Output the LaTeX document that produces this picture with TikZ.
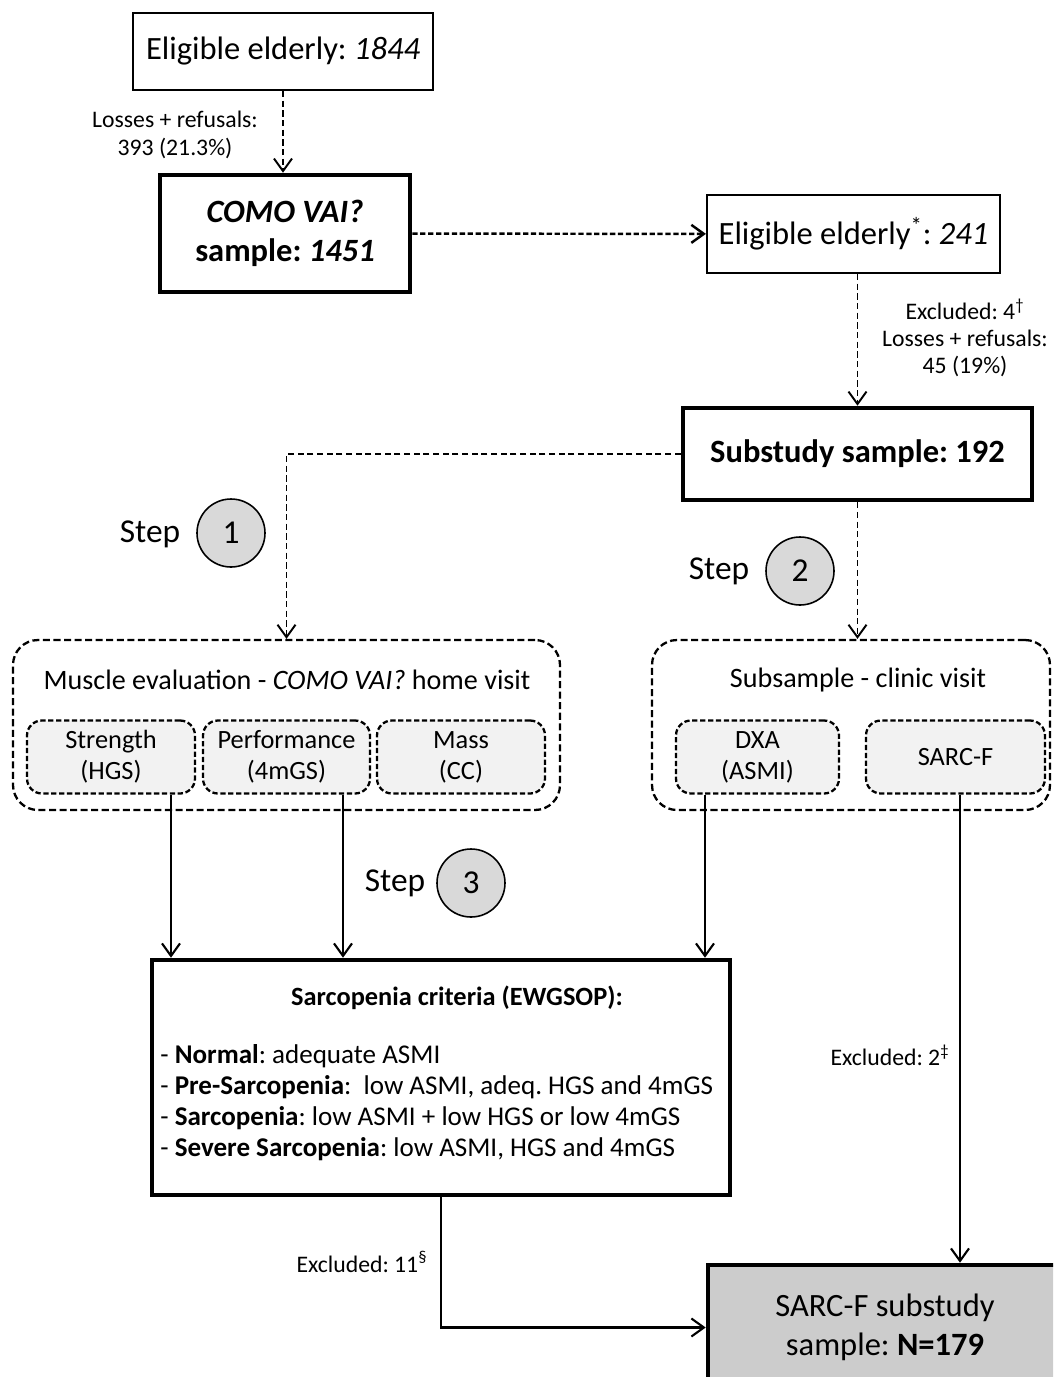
\documentclass[tikz,border=0pt]{standalone}
\usepackage{fontspec}
\setmainfont{Carlito}
\frenchspacing
\usetikzlibrary{arrows.meta}

\tikzset{
  plainbox/.style={draw, line width=1.2pt, align=center, inner sep=0pt,
    font=\fontsize{18.5}{22.5}\selectfont},
  boldbox/.style={plainbox, line width=2.6pt},
  groupbox/.style={draw, line width=1.3pt, rounded corners=5mm,
    dash pattern=on 4pt off 2pt},
  itembox/.style={draw, line width=1.3pt, rounded corners=3mm,
    dash pattern=on 3pt off 1.5pt, fill=gray!10, align=center, inner sep=0pt,
    font=\fontsize{15}{17.5}\selectfont},
  note/.style={align=center, font=\fontsize{13.5}{15.5}\selectfont},
  steplabel/.style={font=\fontsize{19}{22}\selectfont},
  stepnum/.style={circle, draw, line width=0.9pt, fill=gray!30, inner sep=0pt,
    minimum size=13.6mm, font=\fontsize{19}{22}\selectfont},
  dasharrow/.style={line width=1.1pt, dash pattern=on 3.5pt off 2pt,
    -{Straight Barb[length=2.5mm,width=3.6mm]}},
  solidarrow/.style={line width=1.2pt, -{Straight Barb[length=2.5mm,width=3.6mm]}},
}

\begin{document}
\begin{tikzpicture}[x=0.2mm, y=-0.2mm]
  \useasboundingbox (0,0) rectangle (1053,1377);
  \clip (0,0) rectangle (1053,1377);

  % recruitment
  \node[plainbox, minimum width=60mm, minimum height=15.4mm] (elig) at (283,51.5)
    {Eligible elderly: \textit{1844}};
  \node[boldbox, minimum width=50mm, minimum height=23.4mm] (comovai) at (285,233.5)
    {\textbf{\textit{COMO VAI?}}\\ \textbf{sample: \textit{1451}}};
  \node[plainbox, minimum width=58.6mm, minimum height=15.6mm] (eligsub) at (853.5,234)
    {Eligible elderly\textsuperscript{*}: \textit{241}};
  \node[boldbox, minimum width=69.8mm, minimum height=18.4mm] (substudy) at (857.5,454)
    {\textbf{Substudy sample: 192}};

  \node[note] (lossmain) at (175,135) {Losses + refusals:\\ 393 (21.3\%)};
  \node[note] (losssub) at (965,338)
    {Excluded: 4\textsuperscript{\textdagger}\\ Losses + refusals:\\ 45 (19\%)};

  \draw[dasharrow] (elig.south) -- (elig.south |- comovai.north);
  \draw[dasharrow, line width=1.4pt, dash pattern=on 3pt off 1.5pt] (comovai) -- (eligsub);
  \draw[dasharrow] (substudy.north |- eligsub.south) -- (substudy.north);

  % steps
  \node[steplabel] (step1) at (150,534) {Step};
  \node[stepnum] (num1) at (231,533) {1};
  \node[steplabel] (step2) at (719,571) {Step};
  \node[stepnum] (num2) at (800,571) {2};
  \node[steplabel] (step3) at (395,883) {Step};
  \node[stepnum] (num3) at (471,883) {3};

  % evaluations
  \node[groupbox, minimum width=109.4mm, minimum height=34mm] (musclegrp) at (286.5,725) {};
  \node[font=\fontsize{16}{19}\selectfont] (muscletitle) at (287,680)
    {Muscle evaluation - \textit{COMO VAI?} home visit};
  \node[itembox, minimum width=33.6mm, minimum height=14.6mm] (strength) at (111,757)
    {Strength\\ (HGS)};
  \node[itembox, minimum width=33.4mm, minimum height=14.6mm] (perf) at (286.5,757)
    {Performance\\ (4mGS)};
  \node[itembox, minimum width=33.6mm, minimum height=14.6mm] (mass) at (461,757)
    {Mass\\ (CC)};

  \node[groupbox, minimum width=79.6mm, minimum height=34mm] (clinicgrp) at (851,725) {};
  \node[font=\fontsize{16}{19}\selectfont] (clinictitle) at (858,680)
    {Subsample - clinic visit};
  \node[itembox, minimum width=32.6mm, minimum height=14.6mm] (dxa) at (757.5,757)
    {DXA\\ (ASMI)};
  \node[itembox, minimum width=35.8mm, minimum height=14.6mm] (sarcf) at (955.5,757)
    {SARC-F};

  \draw[dasharrow] (substudy.west) -| (musclegrp.north);
  \draw[dasharrow] (substudy.south) -- (substudy.south |- clinicgrp.north);

  % criteria and final sample
  \node[boldbox, minimum width=115.6mm, minimum height=47mm] (criteria) at (441,1077.5) {};
  \node[font=\bfseries\fontsize{15}{18}\selectfont] (crittitle) at (457,998)
    {Sarcopenia criteria (EWGSOP):};
  \node[anchor=west, align=left, inner sep=0pt, font=\fontsize{15.4}{17.6}\selectfont]
    (critlist) at (160,1103)
    {- \textbf{Normal}: adequate ASMI\\
     - \textbf{Pre-Sarcopenia}:~~low ASMI, adeq. HGS and 4mGS\\
     - \textbf{Sarcopenia}: low ASMI + low HGS or low 4mGS\\
     - \textbf{Severe Sarcopenia}: low ASMI, HGS and 4mGS};

  \node[boldbox, fill=gray!40, minimum width=70.8mm, minimum height=25mm] (final) at (885,1327.5)
    {SARC-F substudy\\ sample: \textbf{N=179}};

  \draw[solidarrow] ([xshift=12mm]strength.south) -- ([xshift=12mm]strength.south |- criteria.north);
  \draw[solidarrow] ([xshift=11.3mm]perf.south) -- ([xshift=11.3mm]perf.south |- criteria.north);
  \draw[solidarrow] ([xshift=-10.5mm]dxa.south) -- ([xshift=-10.5mm]dxa.south |- criteria.north);
  \draw[solidarrow] ([xshift=0.9mm]sarcf.south) -- ([xshift=0.9mm]sarcf.south |- final.north);
  \draw[solidarrow] (criteria.south) |- (final.west);

  \node[note] (excl2) at (890,1055) {Excluded: 2\textsuperscript{\textdaggerdbl}};
  \node[note] (excl11) at (362,1262) {Excluded: 11\textsuperscript{\S}};
\end{tikzpicture}
\end{document}
